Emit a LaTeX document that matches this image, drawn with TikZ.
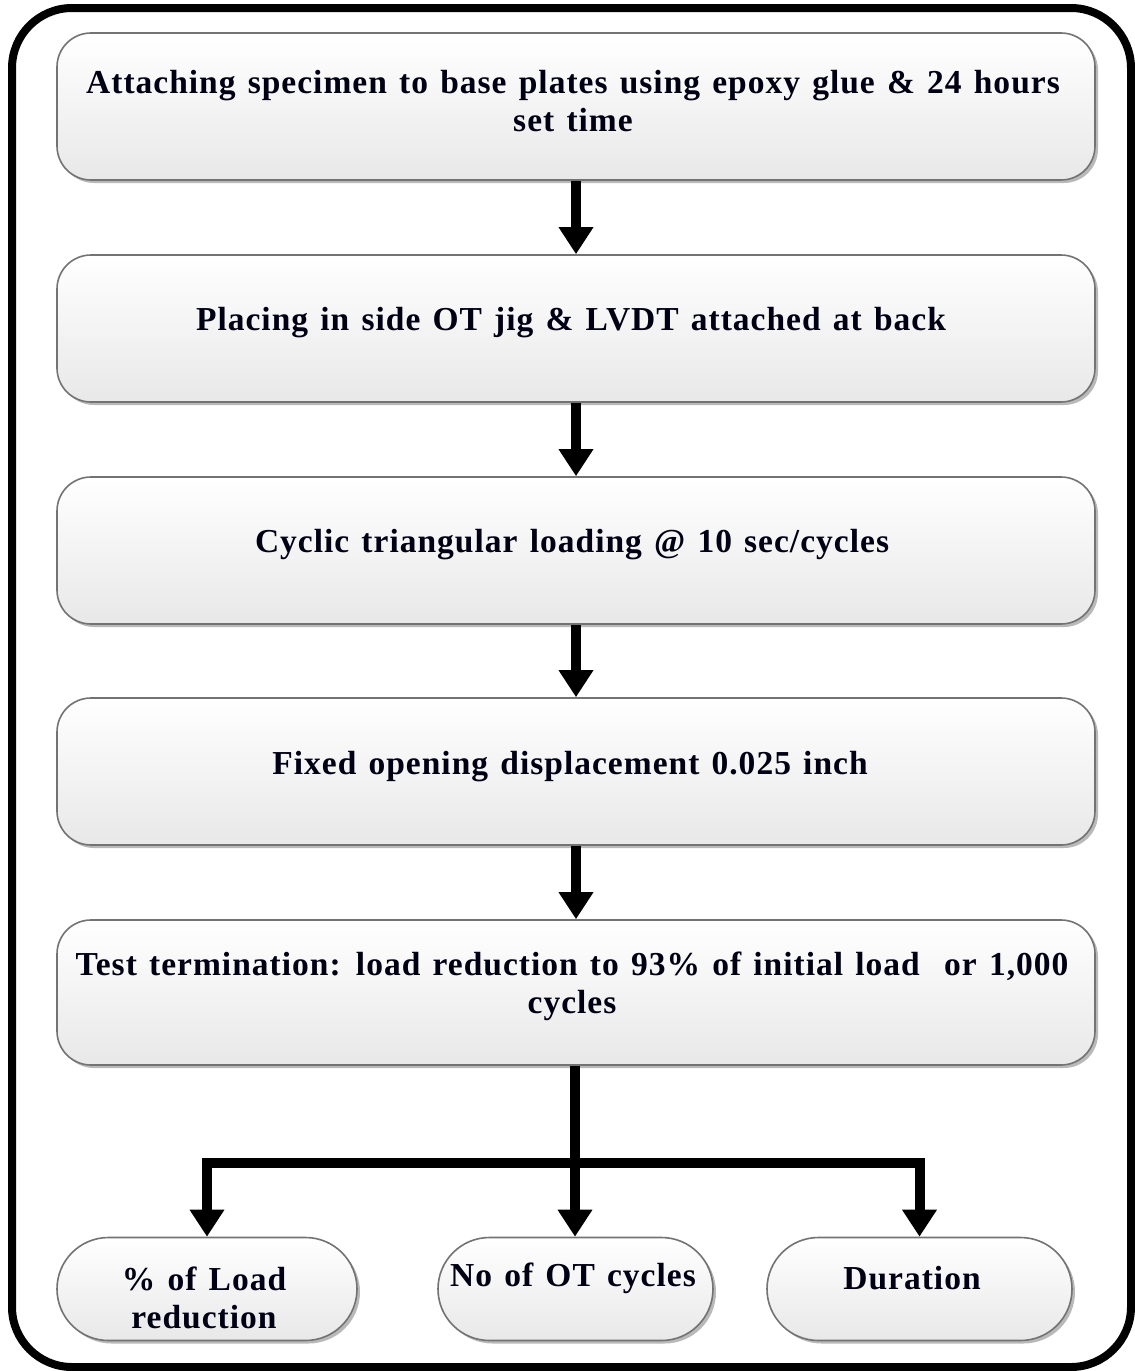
\documentclass[tikz,border=0pt]{standalone}
\usepackage{fontspec}
\setmainfont{Liberation Serif}
\newfontfamily\boxfont[LetterSpace=3,WordSpace=1.3]{Liberation Serif}
\usetikzlibrary{arrows.meta,shapes.misc,shadows}

\begin{document}
\begin{tikzpicture}[x=1pt,y=-1pt,
  softshadow/.style={drop shadow={shadow xshift=3pt, shadow yshift=-3pt, fill=black!50, opacity=.55}},
  stepbox/.style={rectangle, rounded corners=34pt, draw=black!55, line width=1.6pt,
    top color=white, bottom color=black!9, softshadow,
    minimum width=1038pt, minimum height=147pt, inner sep=0pt},
  resultbox/.style={rounded rectangle, draw=black!55, line width=1.6pt,
    top color=white, bottom color=black!9, softshadow,
    minimum height=103pt, inner sep=0pt},
  lbl/.style={font=\boxfont\bfseries\fontsize{33.5}{38}\selectfont, align=center, text=black!92!blue, inner sep=0pt},
  flow/.style={line width=10pt, line join=miter, -{Triangle[width=33pt,length=27pt]}}
]
\useasboundingbox (0,0) rectangle (1135,1371);
\fill[white] (0,0) rectangle (1135,1371);

% outer frame
\draw[line width=8pt, rounded corners=60pt] (12,8) rectangle (1131,1367);

% process steps
\node[stepbox] (b1) at (576,106.5) {};
\node[stepbox] (b2) at (576,328.5) {};
\node[stepbox] (b3) at (576,550.5) {};
\node[stepbox] (b4) at (576,771.5) {};
\node[stepbox, minimum height=145pt] (b5) at (576,992.5) {};

% results
\node[resultbox, minimum width=300pt] (o1) at (207,1289) {};
\node[resultbox, minimum width=275pt] (o2) at (575.5,1289) {};
\node[resultbox, minimum width=305pt] (o3) at (919.5,1289) {};

% texts
\node[lbl] (t1) at (573,101) {Attaching specimen to base plates using epoxy glue \& 24 hours\\set time};
\node[lbl] (t2) at (571,323) {Placing in side OT jig \& LVDT attached at back};
\node[lbl] (t3) at (572,545) {Cyclic triangular loading @ 10 sec/cycles};
\node[lbl] (t4) at (570,767) {Fixed opening displacement 0.025 inch};
\node[lbl] (t5) at (572,986) {Test termination: load reduction to 93\% of initial load~ or 1,000\\cycles};
\node[lbl] (to1) at (204,1297.5) {\% of Load\\reduction};
\node[lbl] (to2) at (573,1278) {No of OT cycles};
\node[lbl] (to3) at (912,1278) {Duration};

% connectors
\draw[flow] (b1.south) -- (b2.north);
\draw[flow] (b2.south) -- (b3.north);
\draw[flow] (b3.south) -- (b4.north);
\draw[flow] (b4.south) -- (b5.north);
\coordinate (split) at (575,1163);
\draw[flow] (b5.south -| split) -- (split |- o2.north);
\draw[flow] (split) -| (o1.north);
\draw[flow] (split) -| (o3.north);
\end{tikzpicture}
\end{document}
